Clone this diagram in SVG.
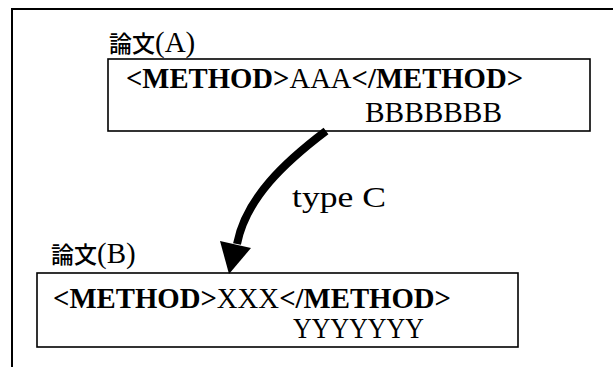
<svg xmlns="http://www.w3.org/2000/svg" width="613" height="367" viewBox="0 0 613 367">
  <style>
    .frame { fill: none; stroke: #000; stroke-width: 2; }
    .box { fill: #fff; stroke: #000; stroke-width: 1.6; }
    .label { font-family: "Noto Sans CJK JP", "Liberation Serif", sans-serif; font-size: 23px; font-weight: 500; fill: #000; }
    .paren { font-family: "Liberation Serif", "Noto Sans CJK JP", serif; font-size: 29px; font-weight: normal; }
    .code { font-family: "Liberation Serif", "Noto Sans CJK JP", serif; font-size: 28.5px; fill: #000; }
    .tag { font-weight: bold; }
    .conn { fill: none; stroke: #000; stroke-width: 8; stroke-linecap: butt; }
  </style>

  <!-- outer frame, open to the right and bottom -->
  <rect class="frame" x="12" y="9" width="640" height="400"/>

  <g id="paperA">
    <text class="label" x="109" y="52">論文<tspan class="paren">(A)</tspan></text>
    <rect class="box" x="108" y="59" width="482" height="72"/>
    <text class="code" x="126" y="88" textLength="397" lengthAdjust="spacingAndGlyphs"><tspan class="tag">&lt;METHOD&gt;</tspan>AAA<tspan class="tag">&lt;/METHOD&gt;</tspan></text>
    <text class="code" x="365" y="122" textLength="137" lengthAdjust="spacingAndGlyphs">BBBBBBB</text>
  </g>

  <g id="paperB">
    <text class="label" x="51" y="263">論文<tspan class="paren">(B)</tspan></text>
    <rect class="box" x="37" y="273" width="481" height="74"/>
    <text class="code" x="53" y="308" textLength="398" lengthAdjust="spacingAndGlyphs"><tspan class="tag">&lt;METHOD&gt;</tspan>XXX<tspan class="tag">&lt;/METHOD&gt;</tspan></text>
    <text class="code" x="293" y="338" textLength="131" lengthAdjust="spacingAndGlyphs">YYYYYYY</text>
  </g>

  <g id="connectors">
    <path class="conn" d="M326,131 C285,162 246,198 237,244"/>
    <polygon points="220,241 251,248 229,274" fill="#000"/>
    <text class="code" x="292" y="207" textLength="94" lengthAdjust="spacingAndGlyphs">type C</text>
  </g>
</svg>
